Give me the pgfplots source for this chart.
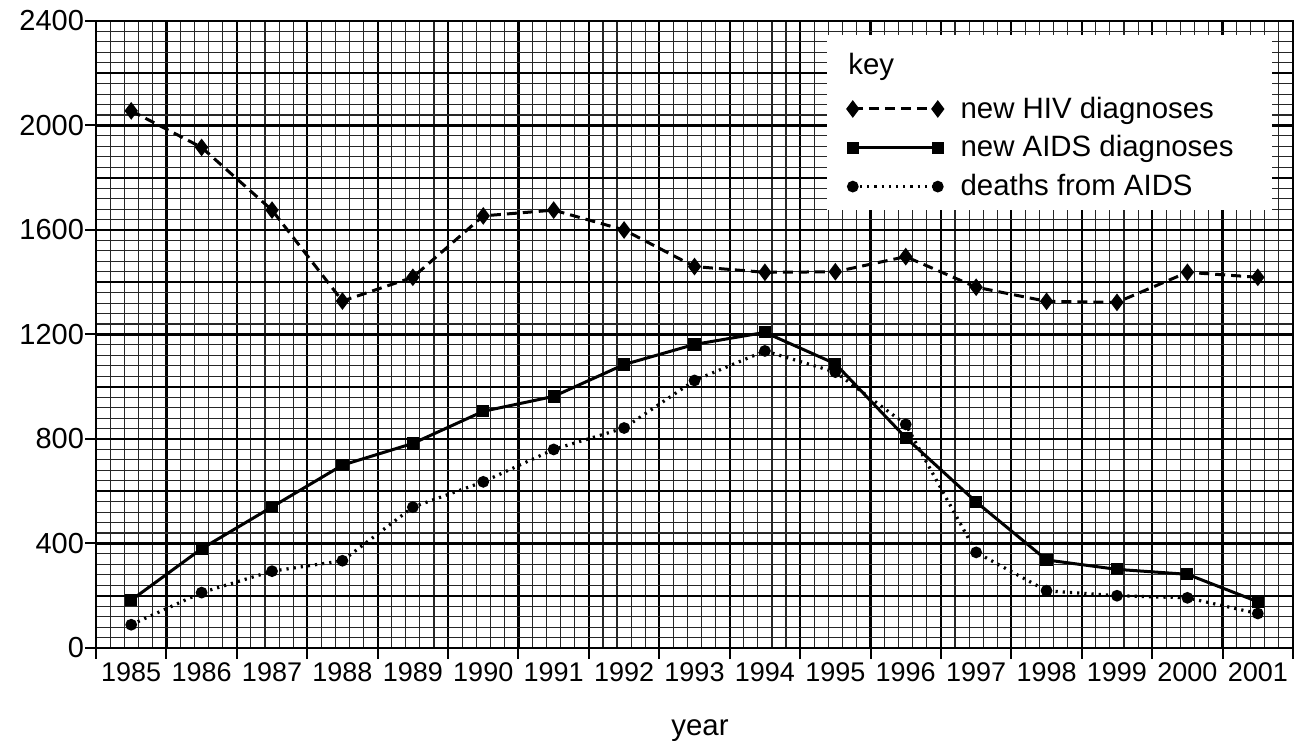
\documentclass[border=0pt]{standalone}
\usepackage{fontspec}
\setmainfont{Liberation Sans}
\usepackage{pgfplots}
\usepackage{pgfplotstable}
\pgfplotsset{compat=1.18}

\pgfplotstableread{
year hiv aids deaths
1985 2056 183 89
1986 1916 380 212
1987 1676 540 294
1988 1328 700 334
1989 1419 783 539
1990 1654 906 636
1991 1676 963 760
1992 1600 1085 842
1993 1460 1162 1024
1994 1438 1208 1137
1995 1440 1088 1056
1996 1498 805 856
1997 1381 559 366
1998 1327 337 219
1999 1323 301 200
2000 1438 282 192
2001 1419 177 132
}\data

\begin{document}
\begin{tikzpicture}
\begin{axis}[
  scale only axis, width=598.5pt, height=313.5pt,
  xmin=1984.5, xmax=2001.5, ymin=0, ymax=2400,
  axis line style={line width=1.4pt, black},
  tick pos=left, tick align=outside,
  xtick={1984.5,1985.5,...,2001.5}, xticklabels={},
  extra x ticks={1985,1986,...,2001},
  extra x tick labels={1985,1986,1987,1988,1989,1990,1991,1992,1993,1994,1995,1996,1997,1998,1999,2000,2001},
  extra x tick style={grid=none, major tick length=0pt,
     xticklabel style={anchor=base, yshift=-17pt}},
  minor xtick={1984.5,1984.7,...,2001.5},
  ytick={0,400,...,2400},
  extra y ticks={200,600,...,2200}, extra y tick labels={},
  extra y tick style={major tick length=0pt},
  minor ytick={0,40,...,2400},
  grid=both,
  major grid style={line width=1.1pt, black},
  minor grid style={line width=0.55pt, black!85},
  major tick length=5.5pt, minor tick length=0pt,
  major tick style={line width=1pt, black},
  xticklabel style={font=\fontsize{13.5}{16}\selectfont},
  yticklabel style={font=\fontsize{14.5}{16}\selectfont, xshift=3pt},
  /pgf/number format/1000 sep={},
  /pgf/number format/assume math mode=true,
  xlabel={year},
  xlabel style={at={(rel axis cs:0.5046,0)}, anchor=base, yshift=-44pt, font=\fontsize{14.7}{16}\selectfont},
  legend style={at={(axis cs:1995.18,2125)}, anchor=north west, draw=none, fill=none,
     inner sep=0pt, outer sep=0pt, row sep=3.25pt, column sep=7pt,
     font=\fontsize{14.7}{16}\selectfont},
  legend cell align=left,
  legend image code/.code={\draw[mark repeat=1, mark phase=1, #1] plot coordinates {(0pt,0pt) (42.5pt,0pt)};},
]
\fill[white] (axis cs:1994.88,1675) rectangle (axis cs:2001.2,2345);
\node[anchor=base west, inner sep=0pt, font=\fontsize{14.7}{16}\selectfont] at (axis cs:1995.18,2197) {key};

\addplot[black, line width=1.5pt, dash pattern=on 5pt off 3pt, mark=diamond*, mark size=3.2pt, mark options={solid}]
  table[x=year, y=hiv] {\data};
\addlegendentry{new HIV diagnoses}
\addplot[black, line width=1.5pt, mark=square*, mark size=2.3pt]
  table[x=year, y=aids] {\data};
\addlegendentry{new AIDS diagnoses}
\addplot[black, line width=1.6pt, dash pattern=on 1.1pt off 2.5pt, mark=*, mark size=2.1pt, mark options={solid}]
  table[x=year, y=deaths] {\data};
\addlegendentry{deaths from AIDS}

\draw[line width=1.4pt, black] (rel axis cs:1,0) -- ++(9pt,0pt);
\end{axis}
\pgfresetboundingbox
\useasboundingbox ([shift={(-48pt,-46.5pt)}]current axis.south west) rectangle ([shift={(9pt,10.5pt)}]current axis.north east);
\end{tikzpicture}
\end{document}
